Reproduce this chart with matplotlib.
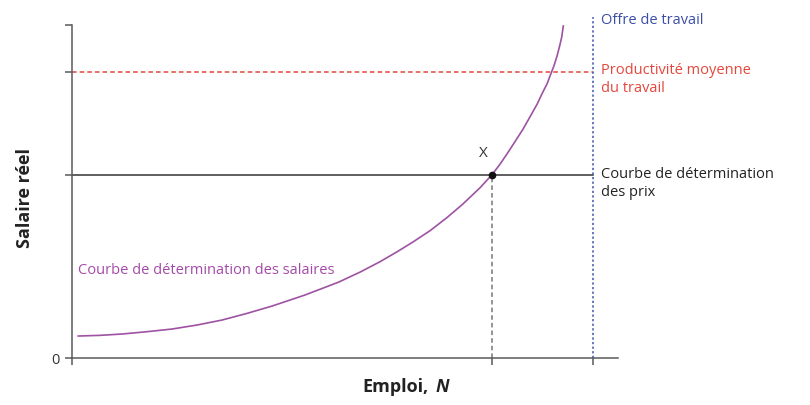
import matplotlib
matplotlib.use("Agg")
import matplotlib.pyplot as plt

wage_n = [0.12, 0.54, 0.96, 1.44, 1.92, 2.40, 2.88, 3.36, 3.84, 4.47, 5.12,
          5.53, 5.91, 6.24, 6.55, 6.87, 7.20, 7.50, 7.83, 8.06, 8.22, 8.35,
          8.50, 8.66, 8.79, 8.93, 9.02, 9.12, 9.19, 9.25, 9.31, 9.36, 9.40,
          9.43]
wage_w = [0.66, 0.68, 0.72, 0.79, 0.87, 0.99, 1.14, 1.34, 1.56, 1.89, 2.28,
          2.58, 2.89, 3.19, 3.49, 3.82, 4.22, 4.62, 5.11, 5.50, 5.83, 6.13,
          6.49, 6.88, 7.24, 7.63, 7.93, 8.24, 8.53, 8.77, 9.07, 9.37, 9.64,
          9.97]

price_w = 5.5          # price-setting curve
productivity_w = 8.6   # average labour productivity
n_star = 8.06          # equilibrium employment (point X)
labour_supply = 10.0   # labour force
y_top = 10.0
supply_top = 10.25

PURPLE = "#9e52a2"
RED = "#e4473b"
BLUE = "#3f55b0"
AXIS = "#5a5a5a"
FONT = ["Open Sans", "DejaVu Sans"]

plt.rcParams["font.family"] = FONT

fig = plt.figure(figsize=(8.1, 4.05), dpi=100)
ax = fig.add_axes([72 / 810, 47 / 405, 546 / 810, 333 / 405])
ax.set_xlim(0, 10.48)
ax.set_ylim(0, y_top)

for side in ["top", "right"]:
    ax.spines[side].set_visible(False)
for side in ["left", "bottom"]:
    ax.spines[side].set_color(AXIS)
    ax.spines[side].set_linewidth(1.1)

ax.set_xticks([0, n_star, labour_supply])
ax.set_xticklabels([])
ax.set_yticks([0, price_w, productivity_w, y_top])
ax.set_yticklabels(["0", "", "", ""])
ax.tick_params(direction="out", length=5, width=1.1, color=AXIS,
               labelsize=10.5, pad=4, labelcolor="#333333")

# price-setting, productivity and labour supply lines
ax.plot([0, labour_supply], [price_w, price_w], color="#333333", lw=1.1)
ax.plot([0, labour_supply], [productivity_w, productivity_w], color=RED,
        lw=1.1, ls=(0, (3, 2)))
ax.plot([labour_supply, labour_supply], [0, supply_top], color=BLUE, lw=1.1,
        ls=(0, (1.5, 1.5)), clip_on=False)
ax.plot([n_star, n_star], [0, price_w], color="#777777", lw=1.1,
        ls=(0, (3, 2)))

# wage-setting curve
ax.plot(wage_n, wage_w, color=PURPLE, lw=1.2, clip_on=False,
        solid_joinstyle="round")
ax.plot([n_star], [price_w], "o", color="#111111", ms=4.5, zorder=5)

ax.text(7.89, 6.13, "X", fontsize=11, ha="center", va="center",
        color="#333333")
ax.text(0.12, 2.64, "Courbe de détermination des salaires", fontsize=10.5,
        color="#a54aa8", va="center", ha="left")
ax.text(10.15, 10.15, "Offre de travail", fontsize=10.5, color="#3c4ea6",
        va="center", ha="left")
ax.text(10.15, 8.36, "Productivité moyenne\ndu travail", fontsize=10.5,
        color=RED, va="center", ha="left", linespacing=1.25)
ax.text(10.15, 5.23, "Courbe de détermination\ndes prix", fontsize=10.5,
        color="#222222", va="center", ha="left", linespacing=1.25)

# axis titles
fig.text(25 / 810, 1 - 198 / 405, "Salaire réel", rotation=90, fontsize=13,
         fontweight="bold", ha="center", va="center", color="#222222")
fig.text(362 / 810, 1 - 387 / 405, "Emploi,", fontsize=13, fontweight="bold",
         ha="left", va="center", color="#222222")
fig.text(436 / 810, 1 - 387 / 405, "N", fontsize=13, fontweight="bold",
         fontstyle="italic", ha="left", va="center", color="#222222")

fig.savefig("out.png", dpi=100)
